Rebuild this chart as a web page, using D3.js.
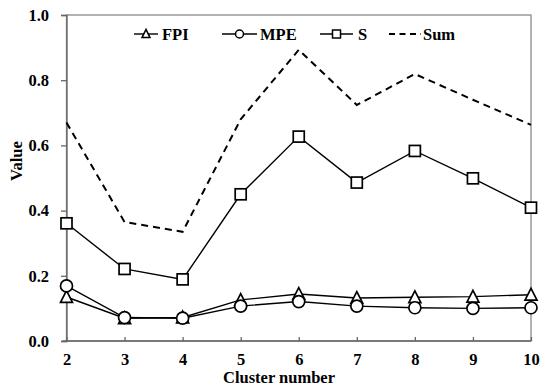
<!DOCTYPE html>
<html><head><meta charset="utf-8">
<script src="https://cdn.jsdelivr.net/npm/d3@7"></script>
<style>body{margin:0;background:#fff}svg{display:block}</style>
</head><body><div id="c"></div>
<script>
const clusters = [2,3,4,5,6,7,8,9,10];
const fpi = [0.135,0.070,0.072,0.126,0.144,0.132,0.134,0.136,0.142];
const mpe = [0.169,0.072,0.070,0.107,0.121,0.107,0.102,0.100,0.102];
const sVals = [0.361,0.221,0.189,0.450,0.627,0.486,0.583,0.499,0.409];
const sumVals = [0.670,0.365,0.335,0.680,0.893,0.724,0.819,0.740,0.663];
const yTicks = [0,0.2,0.4,0.6,0.8,1.0];

const W=550,H=388;
const m={l:66.5,r:19,t:15,b:47};
const svg=d3.select("#c").append("svg").attr("width",W).attr("height",H)
  .attr("font-family","Liberation Serif").attr("font-weight","bold");
const x=d3.scaleLinear().domain([2,10]).range([m.l,W-m.r]);
const y=d3.scaleLinear().domain([0,1]).range([H-m.b,m.t]);
const FS=16.5;
const FF="Liberation Serif";

// frame
svg.append("rect").attr("x",x(2)).attr("y",y(1)).attr("width",x(10)-x(2)).attr("height",y(0)-y(1))
  .attr("fill","none").attr("stroke","#8a8a8a").attr("stroke-width",1.3);

const ya=svg.append("g").attr("transform",`translate(${x(2)},0)`)
  .call(d3.axisLeft(y).tickValues(yTicks).tickSize(5.5).tickPadding(12).tickFormat(d3.format(".1f")));
const xa=svg.append("g").attr("transform",`translate(0,${y(0)})`)
  .call(d3.axisBottom(x).tickValues(clusters).tickSizeInner(-4).tickSizeOuter(0).tickPadding(12).tickFormat(d3.format("d")));
[ya,xa].forEach(a=>{
  a.attr("font-family",FF).attr("font-size",FS).attr("font-weight","bold");
  a.selectAll("path,line").attr("stroke","#666").attr("stroke-width",1.3);
  a.selectAll("text").attr("font-family",FF).attr("font-weight","bold").attr("font-size",FS).attr("fill","#000");
});
xa.select(".domain").attr("d",`M${x(2)-4},0H${x(10)}`);

function txt(sel){ return sel.append("text").attr("font-family",FF).attr("font-weight","bold").attr("font-size",FS); }
txt(svg).attr("x",279).attr("y",382.5).attr("text-anchor","middle").text("Cluster number");
txt(svg).attr("transform",`translate(21.5,161) rotate(-90)`).attr("text-anchor","middle").text("Value");

const line=d3.line().x((d,i)=>x(clusters[i])).y(d=>y(d));
const series=[
  {name:"FPI",vals:fpi,mk:"tri"},
  {name:"MPE",vals:mpe,mk:"circ"},
  {name:"S",vals:sVals,mk:"sq"},
];
svg.append("path").attr("d",line(sumVals)).attr("fill","none").attr("stroke","#000").attr("stroke-width",2).attr("stroke-dasharray","7,5");

function marker(g,type,cx,cy,s){
  if(type==="sq") g.append("rect").attr("x",cx-s/2).attr("y",cy-s/2).attr("width",s).attr("height",s);
  else if(type==="circ") g.append("circle").attr("cx",cx).attr("cy",cy).attr("r",s/2);
  else { const h=s*0.9; g.append("path").attr("d",`M${cx},${cy-h/2-1}L${cx+s/2},${cy+h/2}L${cx-s/2},${cy+h/2}Z`); }
}
series.forEach(se=>{
  svg.append("path").attr("d",line(se.vals)).attr("fill","none").attr("stroke","#000").attr("stroke-width",1.4);
  const g=svg.append("g").attr("fill","#fff").attr("stroke","#000").attr("stroke-width",1.7);
  se.vals.forEach((v,i)=>marker(g,se.mk,x(clusters[i]),y(v),se.mk==="sq"?11:12));
});

// legend
const ly=34;
const leg=[
  {name:"FPI",mk:"tri",x0:134,x1:158,tx:162},
  {name:"MPE",mk:"circ",x0:222,x1:257,tx:260},
  {name:"S",mk:"sq",x0:320,x1:353,tx:358},
];
leg.forEach(l=>{
  svg.append("line").attr("x1",l.x0).attr("x2",l.x1).attr("y1",ly).attr("y2",ly).attr("stroke","#000").attr("stroke-width",1.4);
  const g=svg.append("g").attr("fill","#fff").attr("stroke","#000").attr("stroke-width",1.5);
  marker(g,l.mk,(l.x0+l.x1)/2,ly,8);
  txt(svg).attr("x",l.tx).attr("y",ly+5.5).text(l.name);
});
svg.append("line").attr("x1",389).attr("x2",421).attr("y1",ly).attr("y2",ly).attr("stroke","#000").attr("stroke-width",1.8).attr("stroke-dasharray","6,4.5");
txt(svg).attr("x",423).attr("y",ly+5.5).text("Sum");
</script></body></html>
